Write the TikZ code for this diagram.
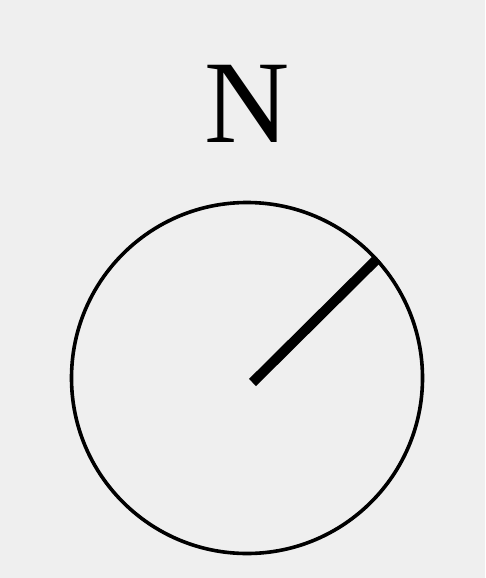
\documentclass[tikz,border=0pt]{standalone}
\usepackage{fontspec}
\setmainfont{Liberation Serif}
\usetikzlibrary{positioning}
\definecolor{bgpaper}{HTML}{EFEFEF}

\begin{document}
\begin{tikzpicture}[
  x=1pt,y=-1pt,
  dial/.style={draw=black,line width=3.6pt},
  needle/.style={draw=black,line width=10pt,line cap=butt},
  lbl/.style={font=\fontsize{118}{118}\selectfont,inner sep=0pt,anchor=base}
]
\fill[bgpaper] (0,0) rectangle (485,578);
\useasboundingbox (0,0) rectangle (485,578);
\coordinate (c)    at (247,378);
\coordinate (foot) at (252.5,382.5);
\coordinate (tip)  at (377.5,258.5);
\node[lbl] (north) at (247.5,142) {N};
\draw[dial] (c) circle[radius=175.5];
\draw[needle] (foot) -- (tip);
\end{tikzpicture}
\end{document}
